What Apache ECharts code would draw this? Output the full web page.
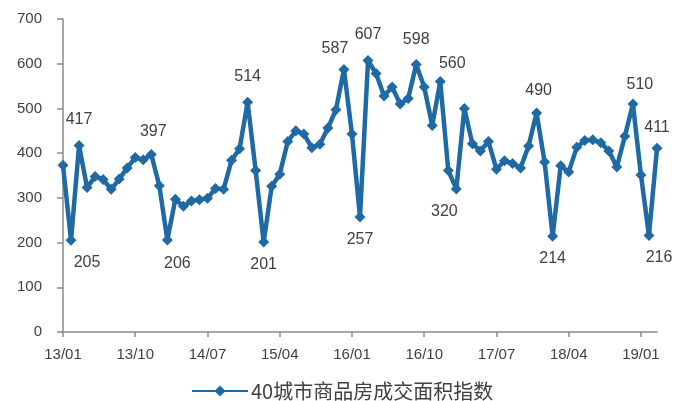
<!DOCTYPE html>
<html>
<head>
<meta charset="utf-8">
<script src="https://cdn.jsdelivr.net/npm/echarts@6/dist/echarts.min.js"></script>
<style>
html,body{margin:0;padding:0;background:#fff;}
#chart{width:676px;height:401px;}
</style>
</head>
<body>
<div id="chart"></div>
<script>
const categories = [
  '13/01','13/02','13/03','13/04','13/05','13/06','13/07','13/08','13/09','13/10','13/11','13/12',
  '14/01','14/02','14/03','14/04','14/05','14/06','14/07','14/08','14/09','14/10','14/11','14/12',
  '15/01','15/02','15/03','15/04','15/05','15/06','15/07','15/08','15/09','15/10','15/11','15/12',
  '16/01','16/02','16/03','16/04','16/05','16/06','16/07','16/08','16/09','16/10','16/11','16/12',
  '17/01','17/02','17/03','17/04','17/05','17/06','17/07','17/08','17/09','17/10','17/11','17/12',
  '18/01','18/02','18/03','18/04','18/05','18/06','18/07','18/08','18/09','18/10','18/11','18/12',
  '19/01','19/02','19/03'
];
const seriesName = '40城市商品房成交面积指数';
const values = [
  373,205,417,323,348,341,319,342,367,390,385,397,
  327,206,297,281,293,296,299,321,319,384,410,514,
  361,201,326,353,426,450,443,412,420,456,497,587,
  443,257,607,578,528,548,510,522,598,548,462,560,
  361,320,500,421,405,426,364,383,377,367,416,490,
  380,214,372,358,413,428,430,423,405,369,438,510,
  351,216,411
];
const labelAbove = [2,11,23,35,38,44,47,59,71,74];
const labelBelow = [1,13,25,37,49,61,73];
const yTicks = [0,100,200,300,400,500,600,700];

// label nudges (pixels), kept apart from the data
const labelNudge = {1: [16, 0], 11: [2, 3], 13: [10, 1], 35: [-9, 5], 47: [12, 7], 49: [-12, 0], 59: [2, 3], 71: [7, 6], 73: [10, 0], 74: [0, 5]};

const FONT = 'Liberation Sans, Arial, sans-serif';
const TXT = '#404040';
const BLUE = '#1F69A4';
const SYM = 11;

const data = values.map((v, i) => {
  const off = labelNudge[i] || [0, 0];
  if (labelAbove.includes(i)) return {value: v, label: {show: true, position: [SYM / 2 + off[0], -12 + off[1]], align: 'center', verticalAlign: 'bottom'}};
  if (labelBelow.includes(i)) return {value: v, label: {show: true, position: [SYM / 2 + off[0], SYM + 9 + off[1]], align: 'center', verticalAlign: 'top'}};
  return v;
});

const chart = echarts.init(document.getElementById('chart'));
chart.setOption({
  animation: false,
  textStyle: {fontFamily: FONT},
  grid: {left: 63, right: 19, top: 19, bottom: 69, containLabel: false},
  legend: {
    top: 376, left: 186,
    itemWidth: 56, itemHeight: 14, itemGap: 4,
    textStyle: {fontSize: 20, color: TXT, fontFamily: 'Noto Sans CJK SC, sans-serif', padding: [0, 0, 0, -2]},
    data: [seriesName]
  },
  xAxis: {
    type: 'category', data: categories, boundaryGap: false,
    axisLine: {lineStyle: {color: '#8a8a8a', width: 1.5}},
    axisTick: {interval: 8, length: 5, lineStyle: {color: '#8a8a8a', width: 1.5}},
    axisLabel: {interval: 8, fontSize: 15, color: TXT, margin: 15, fontFamily: FONT},
    splitLine: {show: false}
  },
  yAxis: {
    type: 'value', min: yTicks[0], max: yTicks[yTicks.length - 1], interval: 100,
    axisLine: {show: true, lineStyle: {color: '#8a8a8a', width: 1.5}},
    axisTick: {show: true, length: 6, lineStyle: {color: '#8a8a8a', width: 1.5}},
    axisLabel: {fontSize: 15, color: TXT, margin: 21, fontFamily: FONT},
    splitLine: {show: false}
  },
  series: [{
    name: seriesName, type: 'line', data: data,
    symbol: 'diamond', symbolSize: SYM, showSymbol: true, showAllSymbol: true,
    lineStyle: {color: BLUE, width: 4.5},
    itemStyle: {color: BLUE},
    label: {show: false, fontSize: 16, color: TXT, fontFamily: FONT},
    labelLayout: {hideOverlap: false},
    emphasis: {disabled: true}
  }]
});
</script>
</body>
</html>
